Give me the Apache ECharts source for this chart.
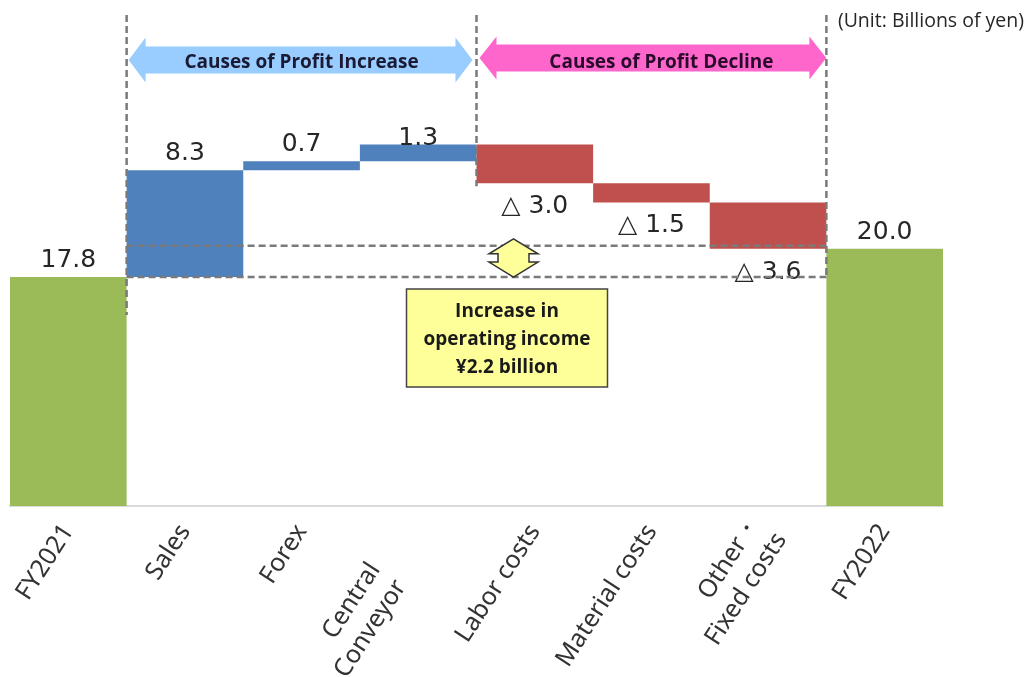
<!DOCTYPE html>
<html><head><meta charset="utf-8">
<script src="https://cdn.jsdelivr.net/npm/echarts@6/dist/echarts.min.js"></script>
<style>html,body{margin:0;padding:0;background:#fff}#c{width:1032px;height:677px}</style>
</head><body><div id="c"></div><script>
// ---- data ----
const categories = ['FY2021','Sales','Forex','Central\nConveyor','Labor costs','Material costs','Other・\nFixed costs','FY2022'];
const values = [17.8, 8.3, 0.7, 1.3, -3.0, -1.5, -3.6, 20.0];
const kinds = ['total','up','up','up','down','down','down','total'];
const valueLabels = ['17.8','8.3','0.7','1.3','△ 3.0','△ 1.5','△ 3.6','20.0'];
const headers = ['Causes of Profit Increase','Causes of Profit Decline'];
const boxLines = ['Increase in','operating income','¥2.2 billion'];
const unitText = '(Unit: Billions of yen)';

// ---- waterfall build ----
const colors = {total:'#9BBB59', up:'#4F81BD', down:'#C0504D'};
const base = [], height = [];
let running = 0;
values.forEach((v,i)=>{
  if (kinds[i]==='total'){ base.push(0); height.push(v); running = v; }
  else if (kinds[i]==='up'){ base.push(running); height.push(v); running += v; }
  else { running += v; base.push(running); height.push(-v); }
});

const chart = echarts.init(document.getElementById('c'), null, {renderer:'canvas'});
const labelFont = {fontFamily:'DejaVu Sans', fontSize:25, color:'#262626'};
const xData = categories.map((c,i)=>{
  if (i===3) return {value:c, textStyle:{padding:[66,56,0,0]}};
  if (i===6) return {value:c, textStyle:{padding:[24,0,0,0]}};
  return c;
});
chart.setOption({
  animation:false,
  grid:{left:10,right:89,top:43,bottom:171, containLabel:false, outerBoundsMode:'none'},
  xAxis:{type:'category', data:xData,
    axisLine:{lineStyle:{color:'#d9d9d9',width:2}}, axisTick:{show:false},
    axisLabel:{rotate:57, interval:0, margin:21, fontFamily:'Noto Sans', fontSize:25, color:'#333', lineHeight:31}},
  yAxis:{type:'value', min:0, max:36, show:false, splitLine:{show:false}},
  series:[
    {type:'bar', stack:'w', data:base, itemStyle:{color:'transparent'}, barCategoryGap:'0%', silent:true},
    {type:'bar', stack:'w', barCategoryGap:'0%',
      data:height.map((h,i)=>({value:h,
        itemStyle:{color:colors[kinds[i]]},
        label:{show:true, formatter:valueLabels[i],
          position: kinds[i]==='down' ? 'bottom' : 'top',
          distance: kinds[i]==='down' ? 11 : (i===3 ? -6 : 4),
          ...labelFont}}))}
  ]
});

// ---- annotations anchored to the axes ----
const cx = i => chart.convertToPixel({xAxisIndex:0}, i);
const py = v => chart.convertToPixel({yAxisIndex:0}, v);
const bw = cx(1) - cx(0);
const edge = i => cx(i) - bw/2;
const dash = {stroke:'#7a7a7a', lineWidth:2.5, lineDash:[7,4]};
const g = [];
function vline(x,y1,y2){ g.push({type:'line', shape:{x1:x,y1:y1,x2:x,y2:y2}, style:dash, z:10}); }
function hline(y,x1,x2){ g.push({type:'line', shape:{x1:x1,y1:y,x2:x2,y2:y}, style:dash, z:10}); }
function harrow(x1,x2,yc,bodyH,headH,headL,fill){
  const bt=yc-bodyH/2, bb=yc+bodyH/2, ht=yc-headH/2, hb=yc+headH/2;
  g.push({type:'polygon', z:5, shape:{points:[[x1,yc],[x1+headL,ht],[x1+headL,bt],[x2-headL,bt],[x2-headL,ht],[x2,yc],[x2-headL,hb],[x2-headL,bb],[x1+headL,bb],[x1+headL,hb]]}, style:{fill:fill}});
}
const y20 = py(values[7]), y178 = py(values[0]);
vline(edge(1), 15, 315);
vline(edge(4), 15, py(base[4]) + 3);
vline(edge(7), 15, y178 + 2);
hline(y20 - 3, edge(1), edge(7));
hline(y178, edge(1), edge(7));

harrow(edge(1)+2, edge(4)-4, 60, 27, 45, 17, '#99CCFF');
harrow(edge(4)+3, edge(7), 58, 27, 43, 17, '#FF66CC');
g.push({type:'text', z:12, style:{text:headers[0], x:(edge(1)+edge(4))/2, y:63, align:'center', verticalAlign:'middle', fontFamily:'Open Sans', fontWeight:'bold', fontSize:19, fill:'#1a1a33'}});
g.push({type:'text', z:12, style:{text:headers[1], x:(edge(4)+edge(7))/2 + 10, y:63, align:'center', verticalAlign:'middle', fontFamily:'Open Sans', fontWeight:'bold', fontSize:19, fill:'#2a0a2a'}});

// small vertical double arrow between the two profit levels
const ax = edge(4) + 37, at = y20 - 10, ab = y178, hw = 24.5, bwid = 15.5, hh = 15;
g.push({type:'polygon', z:12, shape:{points:[[ax,at],[ax+hw,at+hh],[ax+bwid,at+hh],[ax+bwid,ab-hh],[ax+hw,ab-hh],[ax,ab],[ax-hw,ab-hh],[ax-bwid,ab-hh],[ax-bwid,at+hh],[ax-hw,at+hh]]}, style:{fill:'#FFFF99', stroke:'#333', lineWidth:1.5}});

// yellow box
const bx = edge(4) - 70, bwd = 201;
g.push({type:'rect', z:12, shape:{x:bx, y:289, width:bwd, height:98}, style:{fill:'#FFFF99', stroke:'#444', lineWidth:1.5}});
boxLines.forEach((t,k)=>g.push({type:'text', z:13, style:{text:t, x:bx+bwd/2, y:312+k*28, align:'center', verticalAlign:'middle', fontFamily:'Open Sans', fontWeight:'bold', fontSize:19, fill:'#1a1a1a'}}));

g.push({type:'text', z:12, style:{text:unitText, x:1024, y:21, align:'right', verticalAlign:'middle', fontFamily:'Open Sans', fontSize:19.5, fill:'#262626'}});

chart.setOption({graphic:g});
</script></body></html>
